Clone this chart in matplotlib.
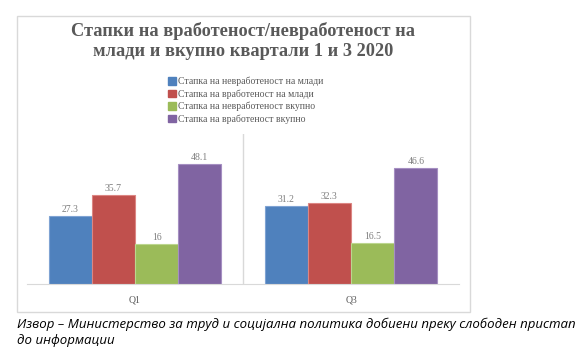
import numpy as np
import matplotlib.pyplot as plt
from matplotlib.patches import Rectangle, Patch

quarters = ["Q1", "Q3"]
series_names = ["Стапка на невработеност на млади",
                "Стапка на вработеност на млади",
                "Стапка на невработеност вкупно",
                "Стапка на вработеност вкупно"]
youth_unemp = [27.3, 31.2]
youth_emp = [35.7, 32.3]
total_unemp = [16, 16.5]
total_emp = [48.1, 46.6]
colors = ["#4F81BD", "#C0504D", "#9BBB59", "#8064A2"]
edges = ["#7fa3d3", "#dc8683", "#bcd68f", "#a58fc2"]

W, H = 587, 356
fig = plt.figure(figsize=(W / 100, H / 100), dpi=100)

# chart frame
fig.patches.append(Rectangle((17 / W, 1 - 312 / H), 453 / W, 296 / H,
                             transform=fig.transFigure, fill=False,
                             edgecolor="#d9d9d9", linewidth=1))

ax = fig.add_axes([27 / W, 1 - 284 / H, 432 / W, 150 / H])
x = np.arange(len(quarters))
bw = 0.2
values = [youth_unemp, youth_emp, total_unemp, total_emp]
for i, vals in enumerate(values):
    pos = x + (i - 1.5) * bw
    ax.bar(pos, vals, bw, color=colors[i], edgecolor=edges[i], linewidth=0.8)
    for p, v in zip(pos, vals):
        ax.text(p, v + 0.8, f"{v:g}", ha="center", va="bottom",
                fontsize=7, color="#7f7f7f", family="Liberation Serif")

ax.set_xlim(-0.5, 1.5)
ax.set_ylim(0, 60)
ax.axvline(0.5, color="#d9d9d9", linewidth=1)
for s in ["top", "right", "left"]:
    ax.spines[s].set_visible(False)
ax.spines["bottom"].set_color("#d9d9d9")
ax.set_yticks([])
ax.set_xticks(x)
ax.set_xticklabels(quarters, fontsize=7, color="#595959", family="Liberation Serif")
ax.tick_params(axis="x", length=0, pad=8)

fig.text(243 / W, 1 - 41 / H,
         "Стапки на вработеност/невработеност на\nмлади и вкупно квартали 1 и 3 2020",
         ha="center", va="center", fontsize=13.2, fontweight="bold",
         color="#595959", family="Liberation Serif", linespacing=1.25)

handles = [Patch(facecolor=c, edgecolor=c) for c in colors]
fig.legend(handles, series_names, loc="upper left",
           bbox_to_anchor=(163 / W, 1 - 72 / H), frameon=False,
           handlelength=0.8, handleheight=0.8,
           handletextpad=0.2, labelspacing=0.3, borderpad=0,
           prop={"family": "Liberation Serif", "size": 7},
           labelcolor="#595959")

fig.text(17 / W, 1 - 318 / H,
         "Извор – Министерство за труд и социјална политика добиени преку слободен пристап\nдо информации",
         ha="left", va="top", fontsize=9.5, style="italic", color="#000000",
         family="Open Sans", linespacing=1.3)

fig.savefig("out.png", dpi=100)
